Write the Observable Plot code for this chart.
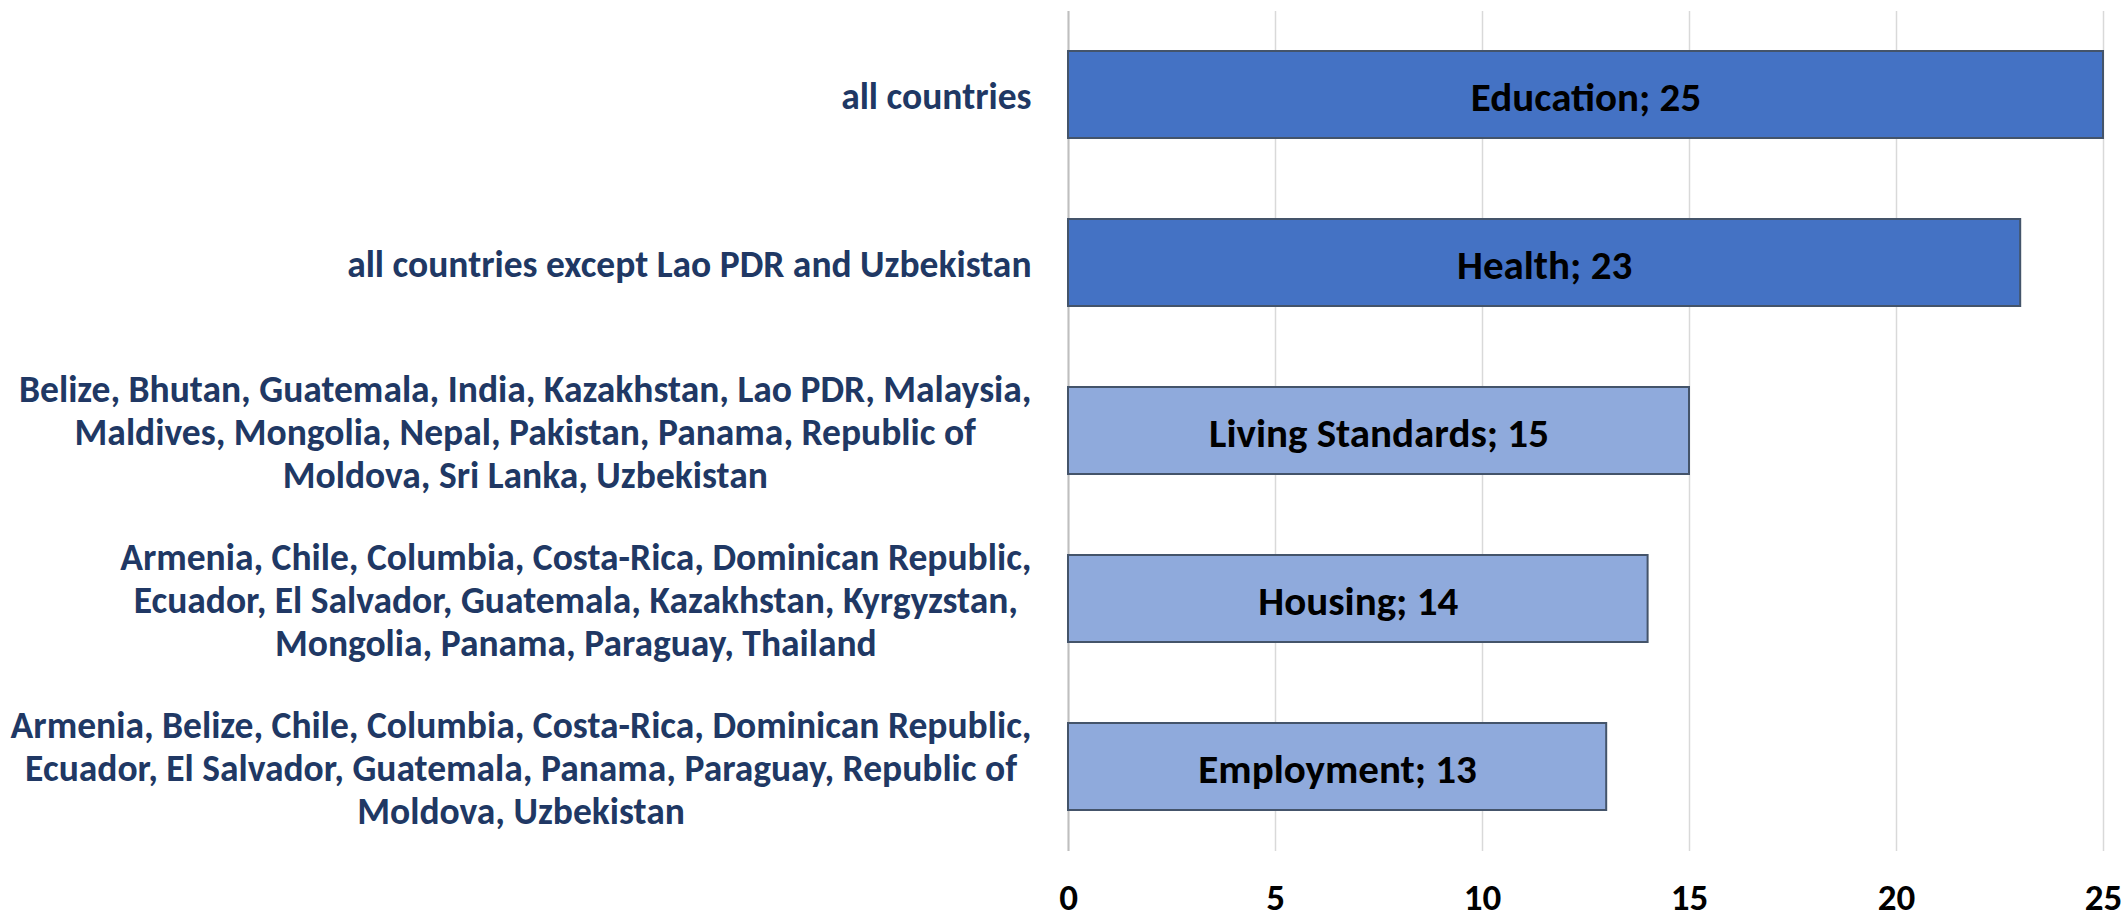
<!DOCTYPE html>
<html><head><meta charset="utf-8">
<script src="https://cdn.jsdelivr.net/npm/d3@7"></script>
<script src="https://cdn.jsdelivr.net/npm/@observablehq/plot@0.6"></script>
<style>body{margin:0;background:#fff;} #chart svg{display:block;}</style>
</head><body><div id="chart"></div>
<script>
const dimensions = ["Education", "Health", "Living Standards", "Housing", "Employment"];
const values = [25, 23, 15, 14, 13];
const countryGroups = [
  "all countries",
  "all countries except Lao PDR and Uzbekistan",
  "Belize, Bhutan, Guatemala, India, Kazakhstan, Lao PDR, Malaysia,\nMaldives, Mongolia, Nepal, Pakistan, Panama, Republic of\nMoldova, Sri Lanka, Uzbekistan",
  "Armenia, Chile, Columbia, Costa-Rica, Dominican Republic,\nEcuador, El Salvador, Guatemala, Kazakhstan, Kyrgyzstan,\nMongolia, Panama, Paraguay, Thailand",
  "Armenia, Belize, Chile, Columbia, Costa-Rica, Dominican Republic,\nEcuador, El Salvador, Guatemala, Panama, Paraguay, Republic of\nMoldova, Uzbekistan"
];
const shades = ["dark", "dark", "light", "light", "light"];
const xTicks = [0, 5, 10, 15, 20, 25];

const FONT = "Carlito, 'Liberation Sans Narrow', 'Roboto Condensed', 'DejaVu Sans Condensed', 'Open Sans', sans-serif";
const LABEL_SIZE = 37.5;
const data = dimensions.map((d, i) => ({dim: d, value: values[i], group: countryGroups[i], shade: shades[i]}));

const ctx = document.createElement("canvas").getContext("2d");
ctx.font = `bold ${LABEL_SIZE}px ${FONT}`;
const blockWidth = s => Math.max(...s.split("\n").map(l => ctx.measureText(l).width));

const labelMarks = countryGroups.map(g => Plot.text([g], {
  y: d => d, text: d => d, frameAnchor: "left", textAnchor: "middle",
  dx: -(37 + blockWidth(g) / 2), lineHeight: 1.15, lineAnchor: "middle",
  fontSize: LABEL_SIZE, fontWeight: "bold", fill: "#203864"
}));

const chart = Plot.plot({
  width: 2126, height: 915,
  marginLeft: 1068, marginRight: 23, marginTop: 11, marginBottom: 64,
  style: {fontFamily: FONT, background: "#fff"},
  x: {domain: [0, 25], ticks: xTicks, axis: null, label: null},
  y: {domain: countryGroups, paddingInner: 0.48, paddingOuter: 0.24, axis: null},
  color: {domain: ["dark", "light"], range: ["#4472C4", "#8FAADC"]},
  marks: [
    Plot.gridX(xTicks, {stroke: "#d9d9d9", strokeOpacity: 1, strokeWidth: 1.5}),
    Plot.ruleX([0], {stroke: "#bfbfbf", strokeWidth: 2}),
    Plot.axisX(xTicks, {tickSize: 0, tickPadding: 32, fontSize: 37, fontWeight: "bold", fill: "#000", label: null, tickFormat: d => String(d)}),
    Plot.barX(data, {x: "value", y: "group", fill: "shade", stroke: "#44546A", strokeWidth: 2}),
    Plot.text(data, {x: d => d.value / 2, y: "group", text: d => `${d.dim}; ${d.value}`, fontSize: 41, fontWeight: "bold", fill: "#000", dy: 3}),
    ...labelMarks
  ]
});
document.getElementById("chart").appendChild(chart);
</script>
</body></html>
